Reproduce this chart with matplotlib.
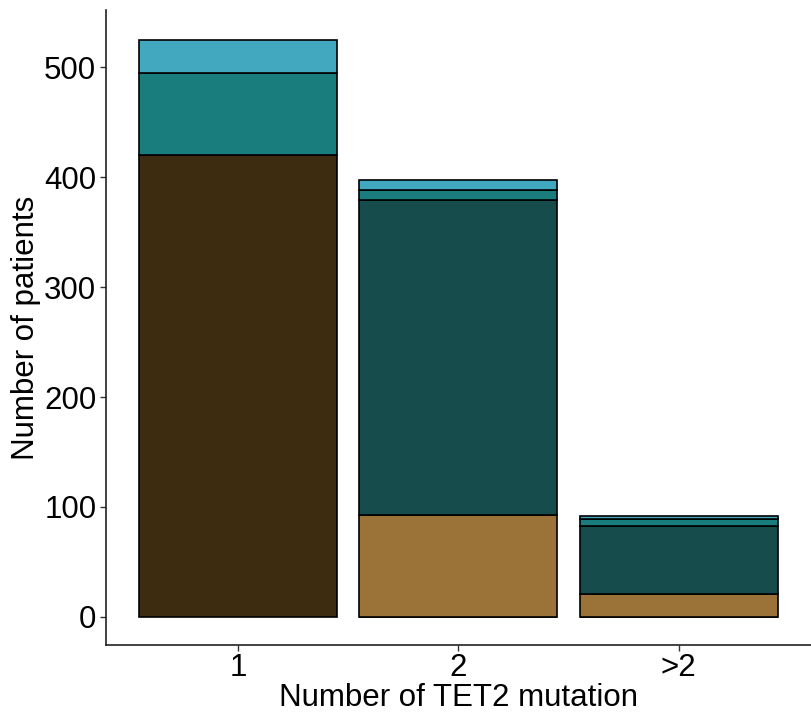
import numpy as np
import matplotlib

matplotlib.use('agg')

import matplotlib.pyplot as plt

plt.rcParams['font.family'] = ['Liberation Sans', 'DejaVu Sans']

# данные, снизу вверх по стопке
groups = ['1', '2', '>2']
layer_a = [420, 0, 0]      # тёмно-коричневый
layer_b = [0, 93, 21]      # светло-коричневый
layer_c = [0, 286, 62]     # тёмный бирюзовый
layer_d = [75, 9, 6]       # бирюзовый
layer_e = [30, 9, 3]       # голубой

layers = [layer_a, layer_b, layer_c, layer_d, layer_e]
colors = ['#3d2c0f', '#9b7338', '#164c4b', '#1a7d7d', '#42a8bf']

fig = plt.figure(figsize=(8.11, 7.12), dpi=100)
ax = fig.add_axes([0.1307, 0.0941, 0.869, 0.892])

x = np.arange(1, len(groups) + 1)
bottom = np.zeros(len(groups))
for vals, col in zip(layers, colors):
    vals = np.array(vals, dtype=float)
    ax.bar(x, vals, width=0.9, bottom=bottom, color=col,
           edgecolor='black', linewidth=1.2)
    bottom += vals

ax.set_xlim(0.4, 3.6)
ax.set_ylim(-25.5, 552)
ax.set_xticks(x)
ax.set_xticklabels(groups)
ax.set_yticks([0, 100, 200, 300, 400, 500])

for side in ['top', 'right']:
    ax.spines[side].set_visible(False)
for side in ['left', 'bottom']:
    ax.spines[side].set_linewidth(1.2)
    ax.spines[side].set_color('#222222')

ax.tick_params(axis='both', labelsize=22.5, length=4, width=1.0,
               color='#333333', labelcolor='black', pad=3)
ax.tick_params(axis='x', pad=2)
ax.set_xlabel('Number of TET2 mutation', fontsize=22.5, labelpad=0)
ax.set_ylabel('Number of patients', fontsize=22.5, labelpad=2)

fig.savefig('out.png', dpi=100)
plt.close(fig)
